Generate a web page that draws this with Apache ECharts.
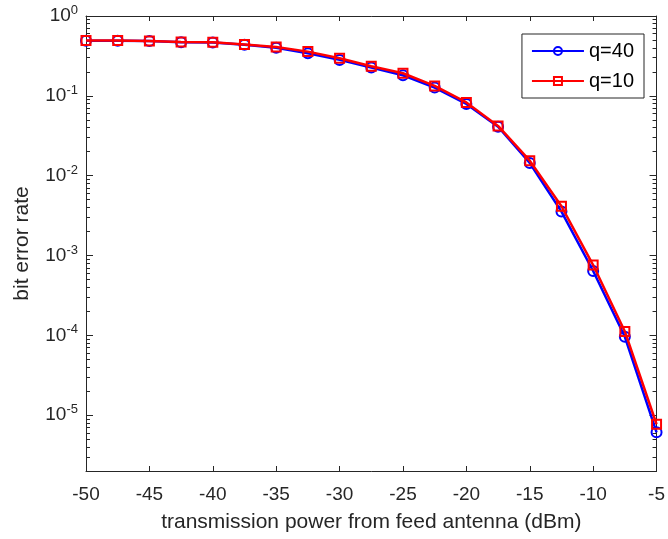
<!DOCTYPE html>
<html>
<head>
<meta charset="utf-8">
<script src="https://cdn.jsdelivr.net/npm/echarts@6/dist/echarts.min.js"></script>
<style>
  html, body { margin: 0; padding: 0; background: #fff; }
  #chart { width: 668px; height: 539px; }
</style>
</head>
<body>
<div id="chart"></div>
<script>
// x 轴：发射功率 (dBm)
const power = [-50, -47.5, -45, -42.5, -40, -37.5, -35, -32.5, -30, -27.5, -25, -22.5, -20, -17.5, -15, -12.5, -10, -7.5, -5]

// 误码率
const berQ40 = [0.49, 0.49, 0.485, 0.47, 0.465, 0.435, 0.40, 0.342, 0.282, 0.226, 0.181, 0.127, 0.079, 0.041, 0.0144, 0.00355, 0.00064, 0.000096, 0.0000061]
const berQ10 = [0.492, 0.492, 0.488, 0.474, 0.468, 0.44, 0.408, 0.358, 0.296, 0.235, 0.192, 0.133, 0.0826, 0.042, 0.0154, 0.00414, 0.00076, 0.000112, 0.0000077]

const seriesNames = ['q=40', 'q=10']

// 刻度
const xTicks = [-50, -45, -40, -35, -30, -25, -20, -15, -10, -5]
const yMajor = [1e-5, 1e-4, 1e-3, 1e-2, 1e-1, 1]
const yMinor = []
for (let e = -6; e < 0; e++) {
  for (let k = 2; k <= 9; k++) {
    const v = k * Math.pow(10, e)
    if (v >= 2e-6) yMinor.push(v)
  }
}

const font = 'Liberation Sans, Arial, Helvetica, sans-serif'
const ink = '#262626'

const pairs = (ys) => power.map((x, i) => [x, ys[i]])

const chart = echarts.init(document.getElementById('chart'), null, { renderer: 'canvas' })

const xBase = {
  type: 'value',
  min: -50,
  max: -5,
  interval: 5,
  splitLine: { show: false },
  axisLine: { show: true, lineStyle: { color: ink, width: 1 } },
  axisTick: { show: true, inside: true, length: 5, lineStyle: { color: ink } }
}

const yBase = {
  type: 'log',
  logBase: 10,
  min: 2e-6,
  max: 1,
  splitLine: { show: false },
  axisLine: { show: true, lineStyle: { color: ink, width: 1 } }
}

const option = {
  animation: false,
  textStyle: { fontFamily: font },
  grid: { left: 86, right: 7, top: 16, bottom: 68, containLabel: false },
  legend: {
    data: seriesNames,
    orient: 'vertical',
    right: 24,
    top: 34,
    backgroundColor: '#fff',
    borderColor: ink,
    borderWidth: 1,
    borderRadius: 0,
    padding: [7, 10, 7, 9],
    itemWidth: 52,
    itemHeight: 10,
    itemGap: 10,
    textStyle: { fontSize: 20, color: '#000', fontFamily: font }
  },
  xAxis: [
    Object.assign({}, xBase, {
      position: 'bottom',
      name: 'transmission power from feed antenna (dBm)',
      nameLocation: 'middle',
      nameGap: 41,
      nameTextStyle: { fontSize: 21, color: ink, fontFamily: font },
      axisLabel: { show: true, margin: 14, fontSize: 19, color: ink, fontFamily: font,
        customValues: xTicks }
    }),
    Object.assign({}, xBase, {
      position: 'top',
      axisLabel: { show: false }
    })
  ],
  yAxis: [
    Object.assign({}, yBase, {
      position: 'left',
      name: 'bit error rate',
      nameLocation: 'middle',
      nameGap: 53,
      nameTextStyle: { fontSize: 21, color: ink, fontFamily: font },
      axisTick: { show: true, inside: true, length: 7, customValues: yMajor, lineStyle: { color: ink } },
      axisLabel: {
        show: true,
        margin: 8,
        customValues: yMajor,
        formatter: (v) => '{b|10}{e|' + Math.round(Math.log10(v)) + '}',
        rich: {
          b: { fontSize: 19, color: ink, fontFamily: font },
          e: { fontSize: 13, color: ink, fontFamily: font, padding: [0, 0, 11, 0] }
        }
      }
    }),
    Object.assign({}, yBase, {
      position: 'right',
      axisTick: { show: true, inside: true, length: 7, customValues: yMajor, lineStyle: { color: ink } },
      axisLabel: { show: false }
    }),
    Object.assign({}, yBase, {
      position: 'left',
      axisLine: { show: false },
      axisTick: { show: true, inside: true, length: 4, customValues: yMinor, lineStyle: { color: ink } },
      axisLabel: { show: false }
    }),
    Object.assign({}, yBase, {
      position: 'right',
      axisLine: { show: false },
      axisTick: { show: true, inside: true, length: 4, customValues: yMinor, lineStyle: { color: ink } },
      axisLabel: { show: false }
    })
  ],
  series: [
    {
      name: 'q=40',
      type: 'line',
      xAxisIndex: 0,
      yAxisIndex: 0,
      data: pairs(berQ40),
      symbol: 'circle',
      symbolSize: 10,
      showAllSymbol: true,
      lineStyle: { color: '#0000ff', width: 2.5 },
      itemStyle: { color: 'rgba(0,0,0,0)', borderColor: '#0000ff', borderWidth: 2 },
      z: 2
    },
    {
      name: 'q=10',
      type: 'line',
      xAxisIndex: 0,
      yAxisIndex: 0,
      data: pairs(berQ10),
      symbol: 'rect',
      symbolSize: 9,
      showAllSymbol: true,
      lineStyle: { color: '#ff0000', width: 2.5 },
      itemStyle: { color: 'rgba(0,0,0,0)', borderColor: '#ff0000', borderWidth: 2 },
      z: 3
    }
  ]
}

chart.setOption(option)
</script>
</body>
</html>
